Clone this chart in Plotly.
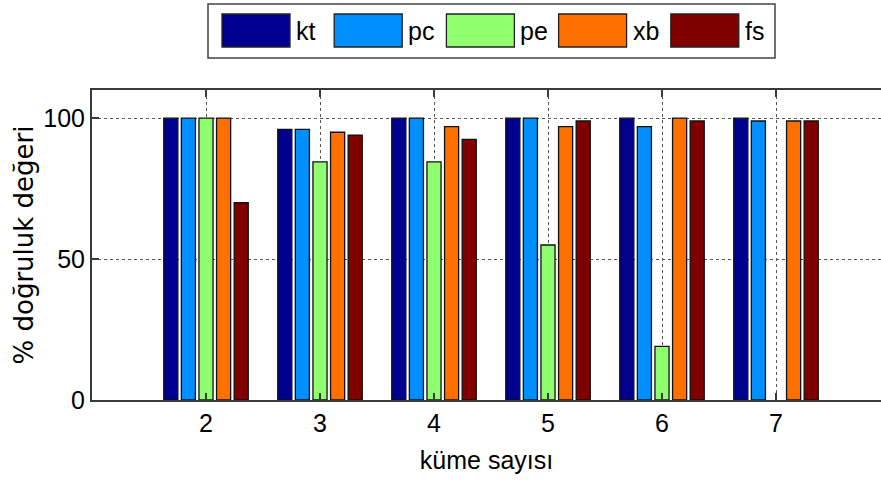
import plotly.graph_objects as go

# cluster counts on the x axis
clusters = [2, 3, 4, 5, 6, 7]

# accuracy (%) per validity index; None = no result for that cluster count
kt = [100, 96, 100, 100, 100, 100]
pc = [100, 96, 100, 100, 97, 99]
pe = [100, 84.5, 84.5, 55, 19, None]
xb = [100, 95, 97, 97, 100, 99]
fs = [70, 94, 92.5, 99, 99, 99]

series_names = ["kt", "pc", "pe", "xb", "fs"]
series_values = [kt, pc, pe, xb, fs]
series_colors = ["#00008F", "#008FFF", "#8FFF70", "#FF7000", "#800000"]

y_ticks = [0, 50, 100]

W, H = 881, 489
ML, MR, MT, MB = 92, 0, 90, 89
plot_w = W - ML - MR
plot_h = H - MT - MB

tick_font = dict(family="Liberation Sans, Arial", size=25, color="black")
legend_font = dict(family="Liberation Sans, Arial", size=25, color="black")
axis_color = "#3a3a3a"

fig = go.Figure()
for name, vals, col in zip(series_names, series_values, series_colors):
    fig.add_trace(go.Bar(
        x=clusters, y=vals, name=name,
        marker=dict(color=col, line=dict(color="#111111", width=1.3)),
        showlegend=False,
    ))

# boxed legend with wide swatches drawn above the axes
def px_x(p):
    return (p - ML) / plot_w

def px_y(p):
    return (H - MB - p) / plot_h

shapes = [dict(type="rect", xref="paper", yref="paper",
               x0=px_x(208), x1=px_x(775), y0=px_y(58), y1=px_y(4),
               line=dict(color="#444444", width=1.5), fillcolor="white", layer="above")]
annotations = []
entry_left = 222
entry_step = 112.2
for i, (name, col) in enumerate(zip(series_names, series_colors)):
    x0 = entry_left + i * entry_step
    shapes.append(dict(type="rect", xref="paper", yref="paper",
                       x0=px_x(x0), x1=px_x(x0 + 68), y0=px_y(47), y1=px_y(14),
                       line=dict(color="#222222", width=1.3), fillcolor=col, layer="above"))
    annotations.append(dict(x=px_x(x0 + 72), y=px_y(31), xref="paper", yref="paper",
                            text=name, showarrow=False, xanchor="left", yanchor="middle",
                            font=legend_font))

fig.update_layout(
    width=W, height=H,
    margin=dict(l=ML, r=MR, t=MT, b=MB),
    plot_bgcolor="white", paper_bgcolor="white",
    barmode="group", bargap=0.228, bargroupgap=0.2,
    shapes=shapes, annotations=annotations,
    xaxis=dict(
        range=[1, 1 + plot_w / 114.0],
        tickvals=clusters, ticktext=[str(c) for c in clusters],
        ticks="inside", ticklen=7, tickcolor=axis_color, tickwidth=1.5,
        showline=True, linecolor=axis_color, linewidth=2, mirror="ticks",
        showgrid=True, gridcolor="#555555", griddash="dot", gridwidth=1,
        zeroline=False, tickfont=tick_font,
        title=dict(text="küme sayısı", font=dict(family="Liberation Sans, Arial", size=25, color="black"),
                   standoff=15),
    ),
    yaxis=dict(
        range=[0, 110],
        tickvals=y_ticks,
        ticks="inside", ticklen=7, tickcolor=axis_color, tickwidth=1.5,
        showline=True, linecolor=axis_color, linewidth=2, mirror=False,
        showgrid=True, gridcolor="#555555", griddash="dot", gridwidth=1,
        zeroline=False, tickfont=tick_font,
        title=dict(text="% doğruluk değeri",
                   font=dict(family="DejaVu Sans, Liberation Sans", size=26, color="black"),
                   standoff=2),
    ),
)

fig.write_html("out.html")
